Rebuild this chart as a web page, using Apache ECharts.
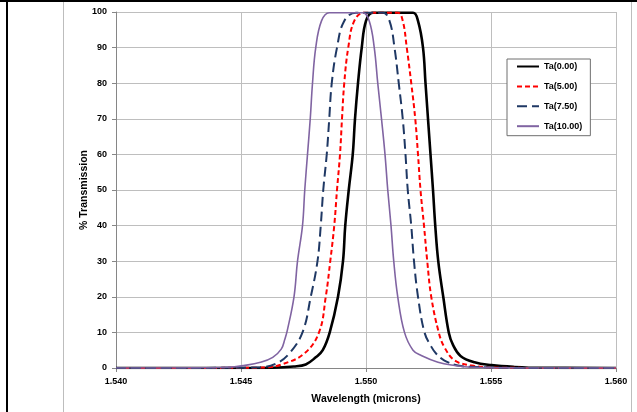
<!DOCTYPE html>
<html><head><meta charset="utf-8">
<script src="https://cdn.jsdelivr.net/npm/echarts@6/dist/echarts.min.js"></script>
<style>html,body{margin:0;padding:0;background:#fff}#c{width:637px;height:412px}</style>
</head><body><div id="c"></div>
<script>
const seriesNames = ['Ta(0.00)', 'Ta(5.00)', 'Ta(7.50)', 'Ta(10.00)'];
const xTickLabels = ['1.540', '1.545', '1.550', '1.555', '1.560'];
const yTickLabels = ['0','10','20','30','40','50','60','70','80','90','100'];

const wl_ta0 = [1.5400,1.5450,1.5463,1.54711,1.54759,1.54799,1.54827,1.54855,1.54888,1.54908,1.54917,1.54931,1.54947,1.54956,1.54968,1.54983,1.5500,1.55027,1.55188,1.55208,1.55228,1.55238,1.55248,1.55258,1.55268,1.55277,1.55289,1.55309,1.55331,1.55348,1.55378,1.55434,1.55502,1.55594,1.5570,1.5600];
const tr_ta0 = [0,0,0.05,0.4,1,3,5,10,20,30,40,50,60,70,80,90,97.5,99.8,99.8,97.5,90,80,70,60,50,40,30,20,10,6.5,3.4,1.6,0.8,0.3,0.05,0];

const wl_ta5 = [1.5400,1.5450,1.54605,1.54659,1.54752,1.54812,1.54839,1.54857,1.54873,1.54884,1.54896,1.54904,1.54913,1.54929,1.54953,1.54993,1.55127,1.55147,1.55163,1.55181,1.55197,1.55208,1.55218,1.55232,1.55245,1.55261,1.55291,1.55314,1.55355,1.55422,1.55489,1.5565,1.5600];
const tr_ta5 = [0,0.05,0.2,0.9,4,10,20,30,40,50,60,70,80,90,97.5,99.8,99.8,97.5,90,80,70,60,50,40,30,20,10,5.8,2.1,0.7,0.2,0.03,0];

const wl_ta75 = [1.5400,1.5445,1.54578,1.54639,1.54692,1.54746,1.54779,1.54806,1.54819,1.54829,1.54843,1.54853,1.54863,1.54884,1.54913,1.54960,1.55067,1.55094,1.55114,1.55131,1.55147,1.55158,1.55167,1.55181,1.55192,1.55208,1.55234,1.55261,1.55281,1.55314,1.55368,1.55434,1.5560,1.5600];
const tr_ta75 = [0,0.05,0.2,1.2,4,10,20,30,40,50,60,70,80,90,97.5,99.8,99.8,97.5,90,80,70,60,50,40,30,20,10,6,4,2.1,0.7,0.3,0.03,0];

const wl_ta10 = [1.5400,1.5430,1.54445,1.54511,1.54578,1.54627,1.54661,1.54675,1.54685,1.54712,1.54726,1.54746,1.54755,1.54766,1.54777,1.54786,1.54799,1.54822,1.54853,1.54987,1.55013,1.55033,1.55047,1.55062,1.55076,1.55087,1.55100,1.55111,1.55127,1.55154,1.55188,1.55221,1.55288,1.55355,1.55422,1.5560,1.5600];
const tr_ta10 = [0,0.03,0.2,0.7,1.6,3,5.3,8,10.5,20,30,40,50,60,70,80,90,97.5,99.8,99.8,97.5,90,80,70,60,50,40,30,20,10,5,3.5,1.6,0.7,0.2,0.02,0];

function pairs(xs, ys){ return xs.map((x,i)=>[x, ys[i]]); }

const styles = [
  {color:'#000000', width:2.6, type:'solid'},
  {color:'#FF0000', width:2, type:[5,3]},
  {color:'#1F3864', width:2, type:[10,5]},
  {color:'#8064A2', width:1.6, type:'solid'}
];
const dataSets = [pairs(wl_ta0,tr_ta0), pairs(wl_ta5,tr_ta5), pairs(wl_ta75,tr_ta75), pairs(wl_ta10,tr_ta10)];

const chart = echarts.init(document.getElementById('c'), null, {renderer:'canvas'});
const lblFont = {fontFamily:'Liberation Sans', fontWeight:'bold', fontSize:9, color:'#000'};
chart.setOption({
  animation:false,
  backgroundColor:'#fff',
  grid:{left:116, right:21, top:12, bottom:44, containLabel:false},
  xAxis:{
    type:'value', min:1.540, max:1.560, interval:0.005,
    name:'Wavelength (microns)', nameLocation:'middle', nameGap:26, nameMoveOverlap:false,
    nameTextStyle:{fontFamily:'Liberation Sans', fontWeight:'bold', fontSize:10.5, color:'#000'},
    axisLine:{lineStyle:{color:'#868686', width:1}},
    axisTick:{show:true, length:4, lineStyle:{color:'#868686'}},
    axisLabel:Object.assign({margin:9, formatter:(v)=>{const i=Math.round((v-1.540)/0.005);return xTickLabels[i]!==undefined?xTickLabels[i]:'';}}, lblFont),
    splitLine:{show:true, lineStyle:{color:'#BEBEBE', width:1}}
  },
  yAxis:{
    type:'value', min:0, max:100, interval:10,
    name:'% Transmission', nameLocation:'middle', nameGap:26, nameRotate:90, nameMoveOverlap:false,
    nameTextStyle:{fontFamily:'Liberation Sans', fontWeight:'bold', fontSize:10.5, color:'#000'},
    axisLine:{show:true, lineStyle:{color:'#868686', width:1}},
    axisTick:{show:true, length:4, lineStyle:{color:'#868686'}},
    axisLabel:Object.assign({margin:9, formatter:(v)=>{const i=Math.round(v/10);return yTickLabels[i]!==undefined?yTickLabels[i]:'';}}, lblFont),
    splitLine:{show:true, lineStyle:{color:'#BEBEBE', width:1}}
  },
  legend:{
    orient:'vertical', left:507, top:59,
    padding:[3,8,5,9], itemGap:10.9, itemWidth:22, itemHeight:11,
    borderColor:'#6E6E6E', borderWidth:1, backgroundColor:'#fff',
    itemStyle:{opacity:0},
    textStyle:{fontFamily:'Liberation Sans', fontWeight:'bold', fontSize:9, color:'#000'},
    data:seriesNames
  },
  series: seriesNames.map((n,i)=>({
    name:n, type:'line', data:dataSets[i], showSymbol:false, symbol:'none',
    smooth:0.4,
    lineStyle:{color:styles[i].color, width:styles[i].width, type:styles[i].type},
    itemStyle:{color:styles[i].color},
    z: 2+i
  })),
  graphic:[
    {type:'rect', shape:{x:0,y:0,width:637,height:2}, style:{fill:'#000'}, silent:true},
    {type:'rect', shape:{x:6,y:0,width:2,height:412}, style:{fill:'#000'}, silent:true},
    {type:'rect', shape:{x:63,y:2,width:1,height:410}, style:{fill:'#BDBDBD'}, silent:true},
    {type:'rect', shape:{x:631,y:2,width:1,height:410}, style:{fill:'#BDBDBD'}, silent:true}
  ]
});
</script></body></html>
